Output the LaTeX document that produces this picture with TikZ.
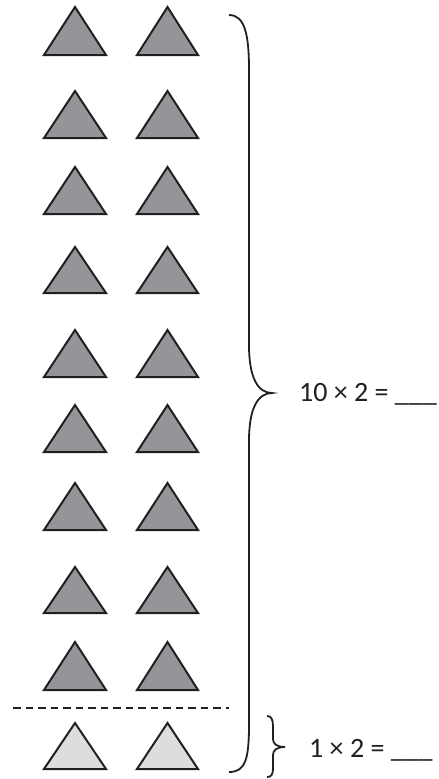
\documentclass[tikz,border=0pt]{standalone}
\usepackage{fontspec}
\setmainfont{Carlito}
\definecolor{tridark}{HTML}{939598}
\definecolor{trilight}{HTML}{DCDDDE}
\definecolor{inkc}{HTML}{231F20}
\begin{document}
\begin{tikzpicture}[x=1pt,y=-1pt,
  tri/.style={draw=inkc,line width=2pt,line join=miter},
  bracec/.style={draw=inkc,line width=1.8pt},
  sep/.style={draw=inkc,line width=1.4pt,dash pattern=on 7.5pt off 5pt},
  eqtext/.style={anchor=base west,inner sep=0pt,font=\fontsize{28}{30}\selectfont,text=inkc}]
\useasboundingbox (0,0) rectangle (439,779);
% dark rows: apex/base
\foreach \a/\b in {7/55,91/138,167/214,247/293,330/377,405/452,483/530,567/613,642/690}{
  \draw[tri,fill=tridark] (44,\b) -- (106,\b) -- (75,\a) -- cycle;
  \draw[tri,fill=tridark] (137,\b) -- (198,\b) -- (167.5,\a) -- cycle;
}
% light row
\draw[tri,fill=trilight] (44,769) -- (106,769) -- (75,723) -- cycle;
\draw[tri,fill=trilight] (137,769) -- (198,769) -- (167.5,723) -- cycle;
% dashed separator
\coordinate (dl) at (13,708);
\coordinate (dr) at (229,708);
\draw[sep] (dl) -- (dr);
% big brace
\coordinate (bigtip) at (272,393);
\draw[bracec] (229,15) .. controls (245,15) and (249,35) .. (249,70) -- (249,345)
  .. controls (249,378) and (258,393) .. (bigtip)
  .. controls (258,393) and (249,408) .. (249,441) -- (249,725)
  .. controls (249,760) and (245,772) .. (229,772);
% small brace
\coordinate (smalltip) at (285,747);
\draw[bracec] (267,716) .. controls (271,716) and (273,719) .. (273,726) -- (273,739)
  .. controls (273,744) and (277,747) .. (smalltip)
  .. controls (277,747) and (273,750) .. (273,755) -- (273,768)
  .. controls (273,775) and (271,777) .. (267,777);
% labels
\node[eqtext] (ten) at (299,401) {10 × 2 = \_\_\_};
\node[eqtext] (one) at (309,757) {1 × 2 = \_\_\_};
\end{tikzpicture}
\end{document}
